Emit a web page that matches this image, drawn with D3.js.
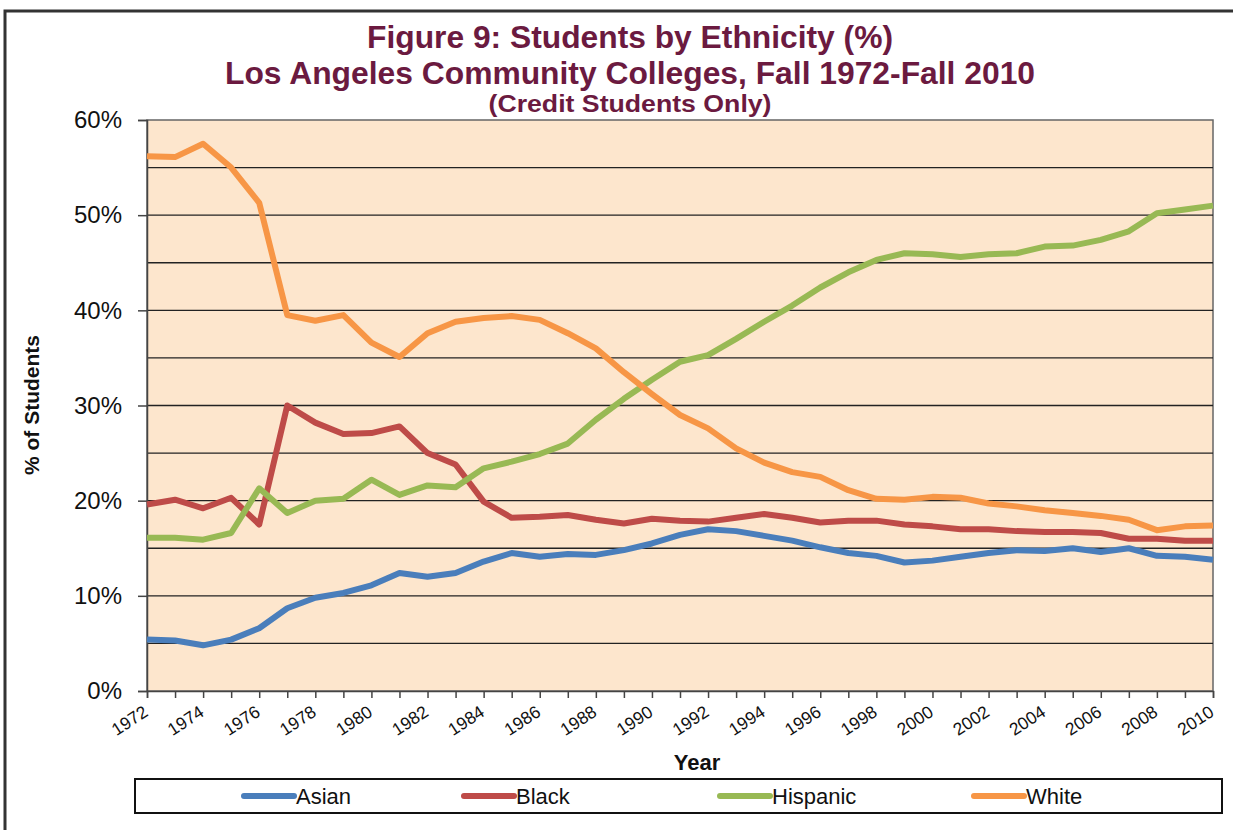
<!DOCTYPE html>
<html>
<head>
<title>Students by Ethnicity</title>
<script src="https://d3js.org/d3.v7.min.js"></script>
<style>
body { margin: 0; background: #fff; }
text { font-family: "Liberation Sans", Arial, sans-serif; }
</style>
</head>
<body>
<script>
var years = d3.range(1972, 2011);
var asian = [5.4, 5.3, 4.8, 5.4, 6.6, 8.7, 9.8, 10.3, 11.1, 12.4, 12.0, 12.4, 13.6, 14.5, 14.1,
             14.4, 14.3, 14.8, 15.5, 16.4, 17.0, 16.8, 16.3, 15.8, 15.1, 14.5, 14.2, 13.5, 13.7,
             14.1, 14.5, 14.8, 14.7, 15.0, 14.6, 15.0, 14.2, 14.1, 13.8];
var black = [19.6, 20.1, 19.2, 20.3, 17.5, 30.0, 28.2, 27.0, 27.1, 27.8, 25.0, 23.8, 19.9, 18.2, 18.3,
             18.5, 18.0, 17.6, 18.1, 17.9, 17.8, 18.2, 18.6, 18.2, 17.7, 17.9, 17.9, 17.5, 17.3,
             17.0, 17.0, 16.8, 16.7, 16.7, 16.6, 16.0, 16.0, 15.8, 15.8];
var hispanic = [16.1, 16.1, 15.9, 16.6, 21.3, 18.7, 20.0, 20.2, 22.2, 20.6, 21.6, 21.4, 23.4, 24.1, 24.9,
                26.0, 28.5, 30.7, 32.7, 34.6, 35.3, 37.0, 38.8, 40.5, 42.4, 44.0, 45.3, 46.0, 45.9,
                45.6, 45.9, 46.0, 46.7, 46.8, 47.4, 48.3, 50.2, 50.6, 51.0];
var white = [56.2, 56.1, 57.5, 55.0, 51.3, 39.5, 38.9, 39.5, 36.6, 35.1, 37.6, 38.8, 39.2, 39.4, 39.0,
             37.6, 36.0, 33.5, 31.2, 29.0, 27.6, 25.5, 24.0, 23.0, 22.5, 21.1, 20.2, 20.1, 20.4,
             20.3, 19.7, 19.4, 19.0, 18.7, 18.4, 18.0, 16.9, 17.3, 17.4];
var seriesNames = ["Asian", "Black", "Hispanic", "White"];
var seriesValues = [asian, black, hispanic, white];
var colors = ["#4a7ebb", "#be4b48", "#98b954", "#f79646"];
var yTicks = [0, 10, 20, 30, 40, 50, 60];

var width = 1233, height = 830;
var svg = d3.select("body").append("svg")
    .attr("width", width)
    .attr("height", height);

// outer frame
svg.append("rect")
    .attr("x", 5).attr("y", 11)
    .attr("width", 1240).attr("height", 840)
    .attr("fill", "none")
    .attr("stroke", "#333")
    .attr("stroke-width", 3);

var x = d3.scaleLinear().domain([1972, 2010]).range([147, 1213]);
var y = d3.scaleLinear().domain([0, 60]).range([691, 120]);

// plot background
svg.append("rect")
    .attr("x", x(1972)).attr("y", y(60))
    .attr("width", x(2010) - x(1972)).attr("height", y(0) - y(60))
    .attr("fill", "#fde6cd")
    .attr("stroke", "#666")
    .attr("stroke-width", 1.5);

// gridlines every 5%
svg.append("g")
    .selectAll("line")
    .data(d3.range(5, 60, 5))
    .enter().append("line")
    .attr("x1", x(1972)).attr("x2", x(2010))
    .attr("y1", function(d) { return y(d); })
    .attr("y2", function(d) { return y(d); })
    .attr("stroke", "#222")
    .attr("stroke-width", 1.3);

// y axis
var yAxis = svg.append("g")
    .attr("transform", "translate(" + x(1972) + ",0)")
    .call(d3.axisLeft(y).tickValues(yTicks).tickSize(9).tickPadding(16)
        .tickFormat(function(d) { return d + "%"; }));
yAxis.select(".domain").attr("stroke", "#444").attr("stroke-width", 1.5);
yAxis.selectAll(".tick line").attr("stroke", "#444").attr("stroke-width", 1.5);
yAxis.selectAll("text")
    .attr("font-size", 24)
    .attr("font-family", "Liberation Sans, Arial, sans-serif")
    .attr("fill", "#111");

// x axis
var xAxis = svg.append("g")
    .attr("transform", "translate(0," + y(0) + ")")
    .call(d3.axisBottom(x).tickValues(years).tickSize(7).tickFormat(""));
xAxis.select(".domain").attr("stroke", "#444").attr("stroke-width", 1.5);
xAxis.selectAll(".tick line").attr("stroke", "#444").attr("stroke-width", 1.5);

svg.append("g")
    .selectAll("text")
    .data(years.filter(function(d) { return d % 2 === 0; }))
    .enter().append("text")
    .attr("transform", function(d) { return "translate(" + (x(d) - 5) + "," + (y(0) + 13) + ") rotate(-33)"; })
    .attr("text-anchor", "end")
    .attr("dy", "0.75em")
    .attr("font-size", 17.5)
    .attr("fill", "#111")
    .text(function(d) { return d; });

// lines
var line = d3.line()
    .x(function(d, i) { return x(years[i]); })
    .y(function(d) { return y(d); });
svg.append("g")
    .selectAll("path")
    .data(seriesValues)
    .enter().append("path")
    .attr("d", line)
    .attr("fill", "none")
    .attr("stroke", function(d, i) { return colors[i]; })
    .attr("stroke-width", 6)
    .attr("stroke-linejoin", "round");

// titles
var titleColor = "#6b1a40";
var titles = [
    {text: "Figure 9: Students by Ethnicity (%)", y: 48, size: 32, len: 526},
    {text: "Los Angeles Community Colleges, Fall 1972-Fall 2010", y: 84, size: 32, len: 810},
    {text: "(Credit Students Only)", y: 112, size: 24, len: 283}
];
svg.append("g")
    .selectAll("text")
    .data(titles)
    .enter().append("text")
    .attr("x", 630)
    .attr("y", function(d) { return d.y; })
    .attr("text-anchor", "middle")
    .attr("font-weight", "bold")
    .attr("font-size", function(d) { return d.size; })
    .attr("textLength", function(d) { return d.len; })
    .attr("lengthAdjust", "spacingAndGlyphs")
    .attr("fill", titleColor)
    .text(function(d) { return d.text; });

// axis titles
svg.append("text")
    .attr("x", 697).attr("y", 770)
    .attr("text-anchor", "middle")
    .attr("font-weight", "bold")
    .attr("font-size", 22)
    .attr("fill", "#111")
    .text("Year");
svg.append("text")
    .attr("transform", "translate(39,405) rotate(-90)")
    .attr("text-anchor", "middle")
    .attr("font-weight", "bold")
    .attr("font-size", 21)
    .attr("fill", "#111")
    .text("% of Students");

// legend
svg.append("rect")
    .attr("x", 135).attr("y", 779)
    .attr("width", 1087).attr("height", 34)
    .attr("fill", "#fff")
    .attr("stroke", "#111")
    .attr("stroke-width", 2);
var legendX = [244, 464, 720, 974];
var legend = svg.append("g")
    .selectAll("g")
    .data(seriesNames)
    .enter().append("g")
    .attr("transform", function(d, i) { return "translate(" + legendX[i] + ",796)"; });
legend.append("line")
    .attr("x1", 0).attr("x2", 50)
    .attr("stroke", function(d, i) { return colors[i]; })
    .attr("stroke-width", 6)
    .attr("stroke-linecap", "round");
legend.append("text")
    .attr("x", 52).attr("dy", "0.36em")
    .attr("font-size", 22)
    .attr("fill", "#111")
    .text(function(d) { return d; });
</script>
</body>
</html>
